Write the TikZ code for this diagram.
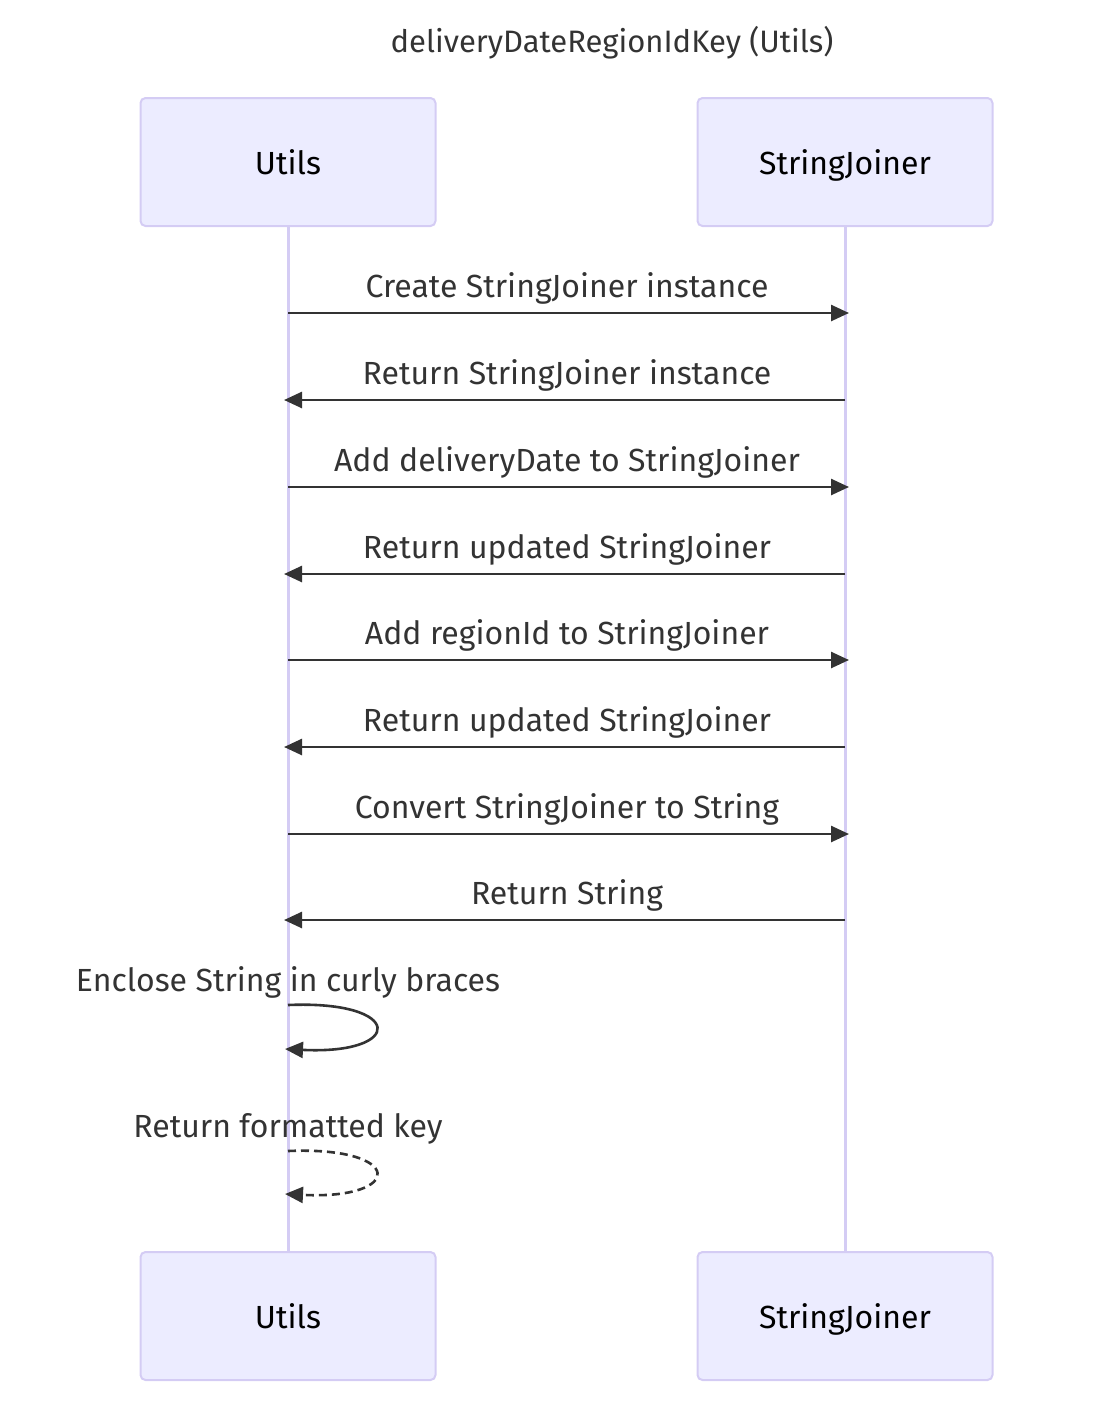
\documentclass[tikz,border=0pt]{standalone}
\usepackage{fontspec}
\setmainfont{Fira Sans}
\usetikzlibrary{arrows.meta}
\definecolor{actfill}{HTML}{ECECFF}
\definecolor{actline}{HTML}{D4CCF4}
\definecolor{msgline}{HTML}{333333}
\tikzset{
  actor/.style={draw=actline, line width=2pt, fill=actfill, rounded corners=5pt,
    minimum width=295pt, minimum height=128pt, inner sep=0pt,
    text height=25pt, text depth=1pt,
    font=\fontsize{32}{38}\selectfont},
  msg/.style={draw=msgline, line width=2.6pt, -{Triangle[length=18pt,width=16pt]}},
  reply/.style={msg, dash pattern=on 8pt off 5pt},
  msglabel/.style={text=msgline, font=\fontsize{32}{38}\selectfont, inner sep=0pt,
    text height=25pt, text depth=1pt},
  life/.style={draw=actline, line width=3pt}
}
\begin{document}
\begin{tikzpicture}[x=1pt,y=-1pt]
\useasboundingbox (0,0) rectangle (1108,1422);
% title
\node[msglabel, font=\fontsize{31}{36}\selectfont] (title) at (612,40) {deliveryDateRegionIdKey (Utils)};
% lifelines
\draw[life] (288,226) -- (288,1252);
\draw[life] (845,226) -- (845,1252);
% actors
\node[actor] (utilsTop) at (288,162) {Utils};
\node[actor] (joinerTop) at (845,162) {StringJoiner};
\node[actor] (utilsBot) at (288,1316) {Utils};
\node[actor] (joinerBot) at (845,1316) {StringJoiner};
% messages
\foreach \y/\dir/\txt [count=\i] in {
  313/r/Create StringJoiner instance,
  400/l/Return StringJoiner instance,
  487/r/Add deliveryDate to StringJoiner,
  574/l/Return updated StringJoiner,
  660/r/Add regionId to StringJoiner,
  747/l/Return updated StringJoiner,
  834/r/Convert StringJoiner to String,
  920/l/Return String} {
  \coordinate (u\i) at (288,\y);
  \coordinate (s\i) at (845,\y);
  \node[msglabel] (m\i) at (567,\y-28) {\txt};
  \if r\dir
    \draw[msg] (u\i) -- ([xshift=4pt]s\i);
  \else
    \draw[msg] (s\i) -- ([xshift=-4pt]u\i);
  \fi
}
% self messages
\node[msglabel] (self1) at (288,979) {Enclose String in curly braces};
\coordinate (a1) at (288,1005);
\coordinate (b1) at (285,1049);
\draw[msg] (a1) .. controls (405,1000) and (405,1055) .. (b1);
\node[msglabel] (self2) at (288,1125) {Return formatted key};
\coordinate (a2) at (288,1151);
\coordinate (b2) at (285,1194);
\draw[reply] (a2) .. controls (405,1146) and (405,1200) .. (b2);
\end{tikzpicture}
\end{document}
